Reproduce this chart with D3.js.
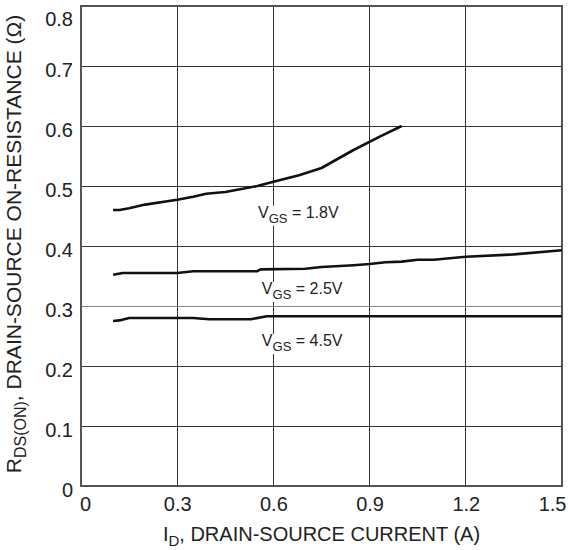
<!DOCTYPE html>
<html><head><meta charset="utf-8">
<script src="https://cdn.jsdelivr.net/npm/d3@7"></script>
<style>body{margin:0;background:#fff;} svg{display:block;font-family:"Liberation Sans",Arial,sans-serif;}</style>
</head><body><svg id="c" width="568" height="550"></svg>
<script>
const xTicks = [0, 0.3, 0.6, 0.9, 1.2, 1.5];
const xTickLabels = ["0", "0.3", "0.6", "0.9", "1.2", "1.5"];
const yTicks = [0, 0.1, 0.2, 0.3, 0.4, 0.5, 0.6, 0.7, 0.8];
const yTickLabels = ["0", "0.1", "0.2", "0.3", "0.4", "0.5", "0.6", "0.7", "0.8"];

const vgs18 = [[0.1,0.46],[0.12,0.46],[0.15,0.463],[0.2,0.469],[0.3,0.477],[0.35,0.482],[0.39,0.487],[0.45,0.49],[0.5,0.495],[0.55,0.5],[0.6,0.507],[0.68,0.518],[0.75,0.53],[0.85,0.56],[0.93,0.582],[1.0,0.6]];
const vgs25 = [[0.1,0.352],[0.13,0.355],[0.3,0.355],[0.35,0.358],[0.55,0.358],[0.56,0.361],[0.7,0.362],[0.75,0.365],[0.85,0.368],[0.9,0.37],[0.95,0.373],[1.0,0.374],[1.05,0.377],[1.1,0.377],[1.2,0.382],[1.35,0.386],[1.5,0.393]];
const vgs45 = [[0.1,0.275],[0.12,0.276],[0.15,0.28],[0.35,0.28],[0.4,0.278],[0.53,0.278],[0.58,0.283],[1.5,0.283]];
const seriesLabels = [
  {v:"1.8", x:0.552, y:0.447},
  {v:"2.5", x:0.564, y:0.32},
  {v:"4.5", x:0.564, y:0.2333}
];

const svg = d3.select("#c");
const L=81, R=562, T=6, B=486;
const x = d3.scaleLinear().domain([0,1.5]).range([L,R]);
const y = d3.scaleLinear().domain([0,0.8]).range([B,T]);

const g = svg.append("g");
g.selectAll(".vg").data(xTicks).enter().append("line")
  .attr("x1",d=>x(d)).attr("x2",d=>x(d)).attr("y1",T).attr("y2",B)
  .attr("stroke","#333").attr("stroke-width",1).attr("shape-rendering","crispEdges");
g.selectAll(".hg").data(yTicks).enter().append("line")
  .attr("x1",L).attr("x2",R).attr("y1",d=>y(d)).attr("y2",d=>y(d))
  .attr("stroke",d=>Math.abs(d-0.3)<1e-9?"#888":"#333").attr("stroke-width",1).attr("shape-rendering","crispEdges");
g.append("rect").attr("x",L).attr("y",T).attr("width",R-L).attr("height",B-T)
  .attr("fill","none").attr("stroke","#555").attr("stroke-width",1.2).attr("shape-rendering","crispEdges");

const FS = 20;
const xAxis = d3.axisBottom(x).tickValues(xTicks).tickFormat((d,i)=>xTickLabels[i]).tickSize(0).tickPadding(11);
const ax = svg.append("g").attr("transform",`translate(0,${B})`).call(xAxis);
ax.select(".domain").remove();
ax.selectAll("text").attr("font-size",FS).attr("fill","#222").attr("font-family","Liberation Sans, Arial, sans-serif");
ax.selectAll(".tick").filter(d=>d===0).select("text").attr("dx",4);
ax.selectAll(".tick").filter(d=>d===1.5).select("text").attr("text-anchor","end").attr("dx",4);

const yAxis = d3.axisLeft(y).tickValues(yTicks).tickFormat((d,i)=>yTickLabels[i]).tickSize(0).tickPadding(8);
const ay = svg.append("g").attr("transform",`translate(${L},0)`).call(yAxis);
ay.select(".domain").remove();
ay.selectAll("text").attr("font-size",FS).attr("fill","#222").attr("font-family","Liberation Sans, Arial, sans-serif")
  .attr("dy",d=>d===0.8?"0.95em":"0.5em");

const line = d3.line().x(d=>x(d[0])).y(d=>y(d[1]));
[vgs18,vgs25,vgs45].forEach(s=>{
  svg.append("path").attr("d",line(s)).attr("fill","none").attr("stroke","#111").attr("stroke-width",2.6).attr("stroke-linejoin","round");
});

seriesLabels.forEach(l=>{
  const t = svg.append("text").attr("x",x(l.x)).attr("y",y(l.y)).attr("font-size",16).attr("fill","#222");
  t.append("tspan").text("V");
  t.append("tspan").attr("font-size",13).attr("dy",5).text("GS");
  t.append("tspan").attr("dy",-5).text(" = "+l.v+"V");
  const bb = t.node().getBBox();
  svg.insert("rect", function(){return t.node();}).attr("x",bb.x-2).attr("y",bb.y+2).attr("width",bb.width+4).attr("height",bb.height-2).attr("fill","#fff");
});

const xt = svg.append("text").attr("x",(L+R)/2).attr("y",541).attr("text-anchor","middle").attr("font-size",20).attr("fill","#222");
xt.append("tspan").text("I");
xt.append("tspan").attr("font-size",15).attr("dy",5).text("D");
xt.append("tspan").attr("dy",-5).text(", DRAIN-SOURCE CURRENT (A)");

const yt = svg.append("text").attr("transform",`translate(21,${(T+B)/2-2}) rotate(-90)`).attr("text-anchor","middle").attr("font-size",21).attr("fill","#222");
yt.append("tspan").text("R");
yt.append("tspan").attr("font-size",16).attr("dy",5).text("DS(ON)");
yt.append("tspan").attr("dy",-5).text(", DRAIN-SOURCE ON-RESISTANCE (Ω)");
</script></body></html>
